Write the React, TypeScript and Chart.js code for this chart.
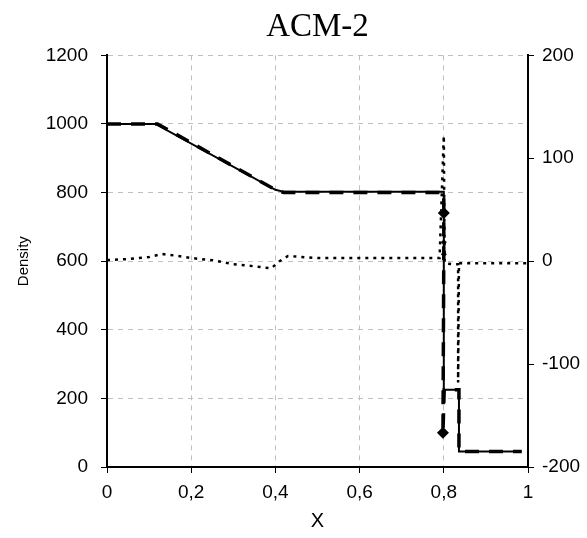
import React, { useEffect, useRef } from "react";
import { Chart, registerables } from "chart.js";
Chart.register(...registerables);

const chartTitle = "ACM-2";
const xAxisTitle = "X";
const yAxisTitle = "Density";

const xTickValues = [0, 0.2, 0.4, 0.6, 0.8, 1];
const xTickLabels = ["0", "0,2", "0,4", "0,6", "0,8", "1"];

// exact density (left axis)
const exactX = [0, 0.115, 0.4, 0.42, 0.8, 0.8, 0.836, 0.836, 0.985];
const exactY = [1000, 1000, 808, 802, 802, 225, 225, 45, 45];

// numerical density (left axis), markers on the contact drop
const numX = [0, 0.12, 0.4, 0.42, 0.8, 0.8, 0.8, 0.8, 0.798, 0.801, 0.836, 0.836, 0.985];
const numY = [1000, 1000, 808, 800, 800, 740, 655, 620, 100, 225, 225, 45, 45];
const numMarker = [0, 0, 0, 0, 0, 6, 3, 3, 6, 0, 0, 0, 0];

// dotted series (right axis)
const rightX = [0, 0.05, 0.1, 0.13, 0.17, 0.2, 0.25, 0.3, 0.35, 0.39, 0.41, 0.43, 0.5, 0.6, 0.7, 0.79, 0.8, 0.802, 0.82, 0.834, 0.834, 0.836, 0.9, 1.0];
const rightY = [1, 2, 4, 7, 5, 3, 1, -3, -5, -7, 0, 5, 3, 3, 3, 3, 122, -2, -3, -3, -118, -2, -2, -2];

const toPts = (xs: number[], ys: number[]) => xs.map((x, i) => ({ x, y: ys[i] }));

const tickFont = { family: "'Liberation Sans', Arial, sans-serif", size: 19 };

export default function App() {
  const ref = useRef<HTMLCanvasElement>(null);
  useEffect(() => {
    document.body.style.margin = "0";
    const chart = new Chart(ref.current!, {
      type: "scatter",
      data: {
        datasets: [
          {
            data: toPts(numX, numY),
            showLine: true,
            borderColor: "#000",
            backgroundColor: "#000",
            borderWidth: 3.5,
            borderDash: [14, 10],
            pointStyle: "rectRot",
            pointRadius: numMarker,
            pointBorderWidth: 0,
            yAxisID: "y",
          },
          {
            data: toPts(exactX, exactY),
            showLine: true,
            borderColor: "#000",
            borderWidth: 2,
            pointRadius: 0,
            yAxisID: "y",
          },
          {
            data: toPts(rightX, rightY),
            showLine: true,
            borderColor: "#000",
            borderWidth: 2.5,
            borderDash: [3, 5],
            pointRadius: 0,
            yAxisID: "y1",
          },
        ],
      },
      options: {
        responsive: false,
        animation: false,
        devicePixelRatio: 1,
        layout: { padding: 0 },
        plugins: {
          legend: { display: false },
          tooltip: { enabled: false },
          title: {
            display: true,
            text: chartTitle,
            fullSize: false,
            color: "#000",
            font: { family: "'Liberation Serif', serif", size: 33, weight: "normal", lineHeight: 1.1 },
            padding: { top: 9, bottom: 10 },
          },
        },
        scales: {
          x: {
            type: "linear",
            min: 0,
            max: 1,
            afterBuildTicks: (s: any) => {
              s.ticks = xTickValues.map((v) => ({ value: v }));
            },
            afterFit: (s: any) => {
              s.height = 71;
            },
            ticks: {
              color: "#000",
              font: tickFont,
              padding: 8,
              maxRotation: 0,
              callback: (v: any) => {
                const i = xTickValues.findIndex((t) => Math.abs(t - Number(v)) < 1e-6);
                return i >= 0 ? xTickLabels[i] : "";
              },
            },
            grid: {
              color: (c: any) => (c.tick && (c.tick.value === 0 || c.tick.value === 1) ? "rgba(0,0,0,0)" : "#c0c0c0"),
              lineWidth: 1,
              tickColor: "#000",
              tickLength: 6,
            },
            border: { display: true, color: "#000", width: 2, dash: [5, 5] },
            title: {
              display: true,
              text: xAxisTitle,
              color: "#000",
              font: { family: "'Liberation Sans', Arial, sans-serif", size: 20 },
              padding: { top: 0, bottom: 5 },
            },
          },
          y: {
            type: "linear",
            position: "left",
            min: 0,
            max: 1200,
            ticks: {
              stepSize: 200,
              color: "#000",
              font: tickFont,
              padding: 13,
              callback: (v: any) => String(v),
            },
            afterFit: (s: any) => {
              s.width = 107;
            },
            grid: {
              color: (c: any) => (c.tick && c.tick.value === 0 ? "rgba(0,0,0,0)" : "#c0c0c0"),
              lineWidth: 1,
              tickColor: "#000",
              tickLength: 6,
            },
            border: { display: true, color: "#000", width: 2, dash: [5, 5] },
            title: {
              display: true,
              text: yAxisTitle,
              color: "#000",
              font: { family: "'Liberation Sans', Arial, sans-serif", size: 15 },
              padding: { top: 15, bottom: 0 },
            },
          },
          y1: {
            type: "linear",
            position: "right",
            min: -200,
            max: 200,
            ticks: {
              stepSize: 100,
              color: "#000",
              font: tickFont,
              padding: 8,
              callback: (v: any) => String(v),
            },
            afterFit: (s: any) => {
              s.width = 59;
            },
            grid: {
              drawOnChartArea: false,
              tickColor: "#000",
              tickLength: 6,
            },
            border: { display: true, color: "#000", width: 2 },
          },
        },
      },
    });
    return () => chart.destroy();
  }, []);
  return (
    <div style={{ width: 587, height: 538 }}>
      <canvas ref={ref} width={587} height={538} style={{ display: "block" }} />
    </div>
  );
}
